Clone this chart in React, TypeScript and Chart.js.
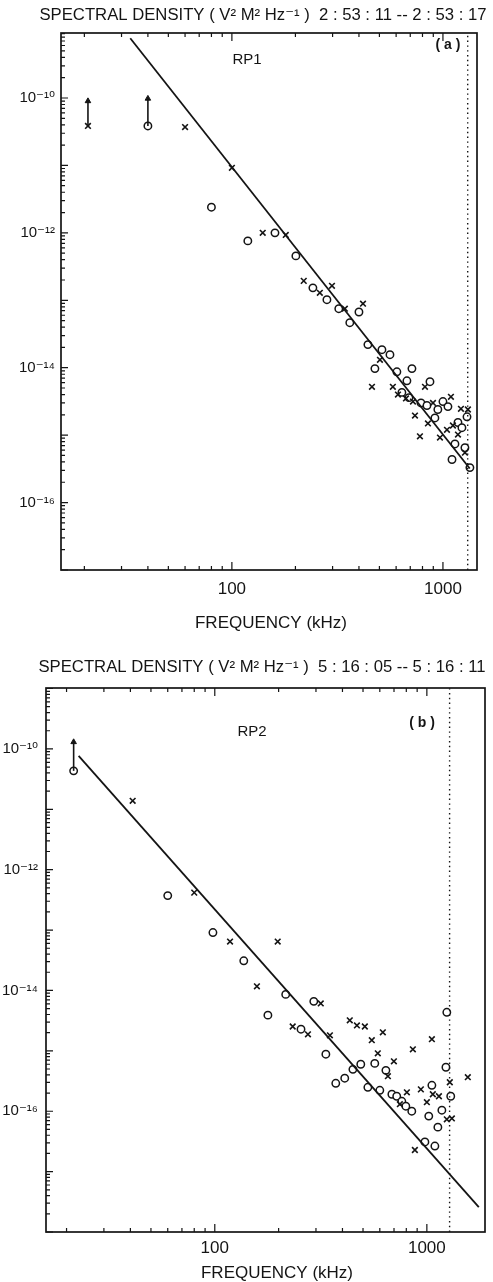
import React, { useEffect, useRef } from "react";
import { Chart, registerables } from "chart.js";

Chart.register(...registerables);

const FONT = '"Liberation Sans", "DejaVu Sans", Arial, sans-serif';
const INK = "#141414";

// ---------------- Panel (a): RP1 ----------------
const RP1_TITLE = "SPECTRAL DENSITY ( V² M² Hz⁻¹ )  2 : 53 : 11 -- 2 : 53 : 17";
const RP1_NAME = "RP1";
const RP1_TAG = "( a )";
// [frequency kHz, spectral density]
const RP1_CIRCLES: [number, number][] = [
  [40, 3.85e-11], [80, 2.4e-12], [119, 7.6e-13], [160, 1.0e-12], [201, 4.55e-13],
  [242, 1.53e-13], [282, 1.02e-13], [321, 7.5e-14], [362, 4.65e-14], [400, 6.7e-14],
  [441, 2.2e-14], [476, 9.7e-15], [514, 1.85e-14], [561, 1.56e-14], [605, 8.7e-15],
  [639, 4.3e-15], [675, 6.4e-15], [690, 3.6e-15], [713, 9.7e-15], [787, 3.0e-15],
  [840, 2.75e-15], [868, 6.2e-15], [916, 1.8e-15], [946, 2.4e-15], [1000, 3.15e-15],
  [1056, 2.65e-15], [1104, 4.35e-16], [1140, 7.4e-16], [1178, 1.54e-15], [1230, 1.29e-15],
  [1271, 6.5e-16], [1300, 1.87e-15], [1342, 3.3e-16],
];
const RP1_CROSSES: [number, number][] = [
  [20.8, 3.85e-11], [60, 3.7e-11], [100, 9.2e-12], [140, 1.0e-12], [180, 9.3e-13],
  [219, 1.94e-13], [261, 1.29e-13], [298, 1.64e-13], [343, 7.5e-14], [418, 8.9e-14],
  [503, 1.31e-14], [461, 5.2e-15], [579, 5.2e-15], [612, 4.0e-15], [668, 3.5e-15],
  [721, 3.15e-15], [822, 5.2e-15], [897, 3.0e-15], [1091, 3.7e-15], [737, 1.95e-15],
  [849, 1.49e-15], [778, 9.6e-16], [968, 9.2e-16], [1045, 1.2e-15], [1115, 1.39e-15],
  [1178, 1.02e-15], [1271, 5.5e-16], [1217, 2.46e-15], [1313, 2.4e-15],
];
// [frequency, from density, arrow tip density]
const RP1_ARROWS: [number, number, number][] = [
  [20.8, 3.85e-11, 9.0e-11],
  [40, 3.85e-11, 9.8e-11],
];
const RP1_FIT: [number, number][] = [[33, 7.7e-10], [1340, 3.2e-16]];
const RP1_CUTOFF = 1310;
const RP1_X_RANGE: [number, number] = [15.5, 1450];
const RP1_Y_RANGE: [number, number] = [1e-17, 9.2e-10];

// ---------------- Panel (b): RP2 ----------------
const RP2_TITLE = "SPECTRAL DENSITY ( V² M² Hz⁻¹ )  5 : 16 : 05 -- 5 : 16 : 11";
const RP2_NAME = "RP2";
const RP2_TAG = "( b )";
const RP2_CIRCLES: [number, number][] = [
  [21.6, 4.33e-11], [60, 3.72e-13], [98, 9.1e-14], [137, 3.1e-14], [178, 3.9e-15],
  [216, 8.6e-15], [293, 6.6e-15], [255, 2.28e-15], [334, 8.8e-16], [372, 2.9e-16],
  [410, 3.52e-16], [448, 4.94e-16], [488, 6.0e-16], [527, 2.49e-16], [568, 6.2e-16],
  [600, 2.22e-16], [641, 4.75e-16], [684, 1.91e-16], [721, 1.77e-16], [762, 1.46e-16],
  [796, 1.21e-16], [849, 1.0e-16], [979, 3.1e-17], [1021, 8.3e-17], [1056, 2.69e-16],
  [1091, 2.65e-17], [1127, 5.45e-17], [1177, 1.04e-16], [1230, 5.35e-16], [1242, 4.35e-15],
  [1296, 1.77e-16],
];
const RP2_CROSSES: [number, number][] = [
  [41, 1.38e-11], [80, 4.17e-13], [118, 6.45e-14], [198, 6.45e-14], [158, 1.17e-14],
  [316, 6.1e-15], [233, 2.53e-15], [275, 1.88e-15], [349, 1.81e-15], [433, 3.2e-15],
  [468, 2.63e-15], [510, 2.53e-15], [550, 1.5e-15], [620, 2.03e-15], [587, 9.1e-16],
  [699, 6.7e-16], [655, 3.8e-16], [859, 1.06e-15], [1056, 1.56e-15], [1560, 3.66e-16],
  [1283, 3.02e-16], [805, 2.06e-16], [937, 2.3e-16], [746, 1.31e-16], [1000, 1.41e-16],
  [1067, 1.91e-16], [1140, 1.77e-16], [1242, 7.35e-17], [1312, 7.6e-17], [878, 2.28e-17],
];
const RP2_ARROWS: [number, number, number][] = [[21.6, 4.33e-11, 1.3e-10]];
const RP2_FIT: [number, number][] = [[22.8, 7.66e-11], [1758, 2.59e-18]];
const RP2_CUTOFF = 1280;
const RP2_X_RANGE: [number, number] = [16, 1880];
const RP2_Y_RANGE: [number, number] = [1e-18, 1.02e-9];

// ---------------- shared axis labelling ----------------
const X_AXIS_TITLE = "FREQUENCY (kHz)";
const X_TICK_LABELS = [100, 1000];
const Y_LABEL_EXPONENTS = [-10, -12, -14, -16];

const SUP: Record<string, string> = {
  "-": "⁻", "0": "⁰", "1": "¹", "2": "²", "3": "³", "4": "⁴",
  "5": "⁵", "6": "⁶", "7": "⁷", "8": "⁸", "9": "⁹",
};
const powLabel = (e: number) => "10" + String(e).split("").map((c) => SUP[c] || c).join("");

function logTicks(min: number, max: number) {
  const out: number[] = [];
  for (let k = Math.floor(Math.log10(min)); k <= Math.ceil(Math.log10(max)); k++) {
    for (let m = 1; m <= 9; m++) {
      const v = m * Math.pow(10, k);
      if (v >= min * 0.999 && v <= max * 1.001) out.push(v);
    }
  }
  return out;
}
const isDecade = (v: number) => {
  const e = Math.log10(v);
  return Math.abs(e - Math.round(e)) < 1e-6;
};

type Layout = {
  canvasTop: number; canvasH: number;
  left: number; right: number; top: number; bottom: number;
  titleX: number; titleY: number;
  axisTitleX: number; axisTitleY: number;
  nameX: number; nameY: number; tagX: number; tagY: number;
  xLabelPad: number; yLabelPad: number;
};

type Panel = {
  title: string; name: string; tag: string;
  circles: [number, number][]; crosses: [number, number][];
  arrows: [number, number, number][]; fit: [number, number][];
  cutoff: number; xRange: [number, number]; yRange: [number, number];
  layout: Layout;
};

const W = 493;

const PANELS: Panel[] = [
  {
    title: RP1_TITLE, name: RP1_NAME, tag: RP1_TAG,
    circles: RP1_CIRCLES, crosses: RP1_CROSSES, arrows: RP1_ARROWS, fit: RP1_FIT,
    cutoff: RP1_CUTOFF, xRange: RP1_X_RANGE, yRange: RP1_Y_RANGE,
    layout: {
      canvasTop: 0, canvasH: 640, left: 61, right: 477, top: 33, bottom: 570,
      titleX: 263, titleY: 15,
      axisTitleX: 271, axisTitleY: 623,
      nameX: 247, nameY: 60, tagX: 448, tagY: 45,
      xLabelPad: 9, yLabelPad: 6,
    },
  },
  {
    title: RP2_TITLE, name: RP2_NAME, tag: RP2_TAG,
    circles: RP2_CIRCLES, crosses: RP2_CROSSES, arrows: RP2_ARROWS, fit: RP2_FIT,
    cutoff: RP2_CUTOFF, xRange: RP2_X_RANGE, yRange: RP2_Y_RANGE,
    layout: {
      canvasTop: 640, canvasH: 642, left: 46, right: 485, top: 48, bottom: 592,
      titleX: 262, titleY: 27,
      axisTitleX: 277, axisTitleY: 633,
      nameX: 252, nameY: 92, tagX: 422, tagY: 83,
      xLabelPad: 6, yLabelPad: 8,
    },
  },
];

const pts = (a: [number, number][]) => a.map(([x, y]) => ({ x, y }));

function buildConfig(p: Panel): any {
  const L = p.layout;
  const framePlugin = {
    id: "frame",
    afterDraw(chart: any) {
      const { ctx, chartArea: ca, scales } = chart;
      ctx.save();
      ctx.strokeStyle = INK;
      ctx.fillStyle = INK;
      // box
      ctx.lineWidth = 1.7;
      ctx.strokeRect(ca.left, ca.top, ca.right - ca.left, ca.bottom - ca.top);
      // inward ticks
      ctx.lineWidth = 1.2;
      ctx.beginPath();
      for (const t of scales.y.ticks) {
        const py = scales.y.getPixelForValue(t.value);
        if (py < ca.top - 0.5 || py > ca.bottom + 0.5) continue;
        const len = isDecade(t.value) ? 7 : 4;
        ctx.moveTo(ca.left, py);
        ctx.lineTo(ca.left + len, py);
      }
      for (const t of scales.x.ticks) {
        const px = scales.x.getPixelForValue(t.value);
        if (px < ca.left - 0.5 || px > ca.right + 0.5) continue;
        const len = isDecade(t.value) ? 8 : 4;
        ctx.moveTo(px, ca.bottom);
        ctx.lineTo(px, ca.bottom - len);
        ctx.moveTo(px, ca.top);
        ctx.lineTo(px, ca.top + len);
      }
      ctx.stroke();
      // texts
      ctx.textAlign = "center";
      ctx.textBaseline = "middle";
      ctx.font = `16.7px ${FONT}`;
      ctx.fillText(p.title, L.titleX, L.titleY);
      ctx.font = `17px ${FONT}`;
      ctx.fillText(X_AXIS_TITLE, L.axisTitleX, L.axisTitleY);
      ctx.font = `15px ${FONT}`;
      ctx.fillText(p.name, L.nameX, L.nameY);
      ctx.font = `bold 14px ${FONT}`;
      ctx.fillText(p.tag, L.tagX, L.tagY);
      ctx.restore();
    },
  };

  const datasets: any[] = [
    {
      label: "fit",
      data: pts(p.fit),
      showLine: true,
      borderColor: INK,
      borderWidth: 1.8,
      pointRadius: 0,
    },
    {
      label: "cutoff",
      data: [
        { x: p.cutoff, y: p.yRange[0] },
        { x: p.cutoff, y: p.yRange[1] },
      ],
      showLine: true,
      borderColor: INK,
      borderWidth: 1.4,
      borderDash: [1.4, 3.4],
      pointRadius: 0,
    },
    ...p.arrows.map(([f, from, to]) => ({
      label: "arrow",
      data: [
        { x: f, y: from },
        { x: f, y: to },
      ],
      showLine: true,
      borderColor: INK,
      borderWidth: 1.6,
      pointStyle: "triangle",
      pointRadius: [0, 3.2],
      backgroundColor: INK,
      pointBorderColor: INK,
      pointBorderWidth: 1,
    })),
    {
      label: "crosses",
      data: pts(p.crosses),
      pointStyle: "crossRot",
      pointRadius: 4,
      borderColor: INK,
      borderWidth: 1.6,
    },
    {
      label: "circles",
      data: pts(p.circles),
      pointStyle: "circle",
      pointRadius: 3.7,
      borderColor: INK,
      backgroundColor: "#ffffff",
      borderWidth: 1.5,
    },
  ];

  const xT = logTicks(p.xRange[0], p.xRange[1]);
  const yT = logTicks(p.yRange[0], p.yRange[1]);

  return {
    type: "scatter",
    data: { datasets },
    options: {
      animation: false,
      responsive: false,
      maintainAspectRatio: false,
      events: [],
      layout: {
        padding: { left: 0, right: W - L.right, top: L.top, bottom: 0 },
      },
      plugins: {
        legend: { display: false },
        tooltip: { enabled: false },
        title: { display: false },
      },
      scales: {
        x: {
          type: "logarithmic",
          min: p.xRange[0],
          max: p.xRange[1],
          grid: { display: false, drawTicks: false },
          border: { display: false },
          afterBuildTicks: (s: any) => {
            s.ticks = xT.map((v) => ({ value: v }));
          },
          afterFit: (s: any) => {
            s.height = L.canvasH - L.bottom;
          },
          ticks: {
            autoSkip: false,
            maxRotation: 0,
            minRotation: 0,
            padding: L.xLabelPad,
            color: INK,
            font: { family: FONT, size: 17 },
            callback: (v: number) => {
              const hit = X_TICK_LABELS.find((t) => Math.abs(t - v) < 1e-6 * t);
              return hit ? String(hit) : "";
            },
          },
        },
        y: {
          type: "logarithmic",
          min: p.yRange[0],
          max: p.yRange[1],
          grid: { display: false, drawTicks: false },
          border: { display: false },
          afterBuildTicks: (s: any) => {
            s.ticks = yT.map((v) => ({ value: v }));
          },
          afterFit: (s: any) => {
            s.width = L.left;
          },
          ticks: {
            autoSkip: false,
            padding: L.yLabelPad,
            color: INK,
            font: { family: FONT, size: 15 },
            callback: (v: number) => {
              if (!isDecade(v)) return "";
              const e = Math.round(Math.log10(v));
              return Y_LABEL_EXPONENTS.includes(e) ? powLabel(e) : "";
            },
          },
        },
      },
    },
    plugins: [framePlugin],
  };
}

function PanelChart({ panel }: { panel: Panel }) {
  const ref = useRef<HTMLCanvasElement | null>(null);
  useEffect(() => {
    if (!ref.current) return;
    const chart = new Chart(ref.current, buildConfig(panel));
    return () => chart.destroy();
  }, [panel]);
  const L = panel.layout;
  return (
    <canvas
      ref={ref}
      width={W}
      height={L.canvasH}
      style={{
        position: "absolute",
        left: 0,
        top: L.canvasTop,
        width: W,
        height: L.canvasH,
        display: "block",
      }}
    />
  );
}

export default function App() {
  return (
    <div
      style={{
        position: "absolute",
        left: 0,
        top: 0,
        width: W,
        height: 1282,
        background: "#ffffff",
        overflow: "hidden",
      }}
    >
      {PANELS.map((p, i) => (
        <PanelChart key={i} panel={p} />
      ))}
    </div>
  );
}
